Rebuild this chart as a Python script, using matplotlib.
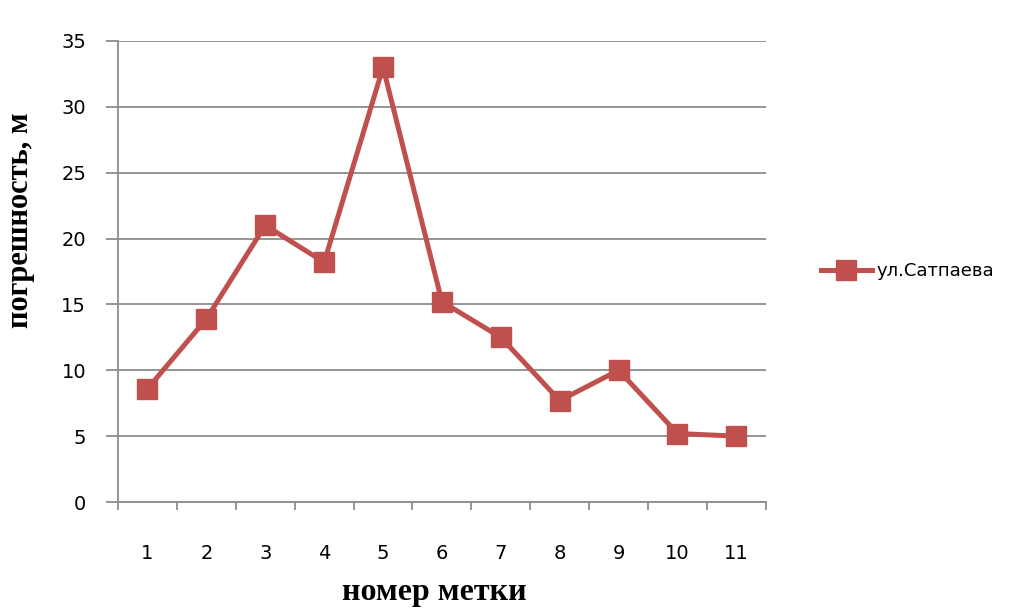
import matplotlib.pyplot as plt
import numpy as np

# Погрешность по меткам, ул. Сатпаева
labels = ['1', '2', '3', '4', '5', '6', '7', '8', '9', '10', '11']
errors = [8.6, 13.9, 21.0, 18.2, 33.0, 15.2, 12.5, 7.7, 10.0, 5.2, 5.0]
series_name = 'ул.Сатпаева'

line_color = '#c0504d'
grid_color = '#8c8c8c'

fig = plt.figure(figsize=(10.09, 6.10), dpi=100)
ax = fig.add_axes([0.117, 0.177, 0.642, 0.756])

x = np.arange(len(labels))
ax.plot(x, errors, color=line_color, lw=3.6, marker='s', ms=15,
        mec=line_color, mfc=line_color, label=series_name)

ax.set_xlim(-0.5, len(labels) - 0.5)
ax.set_ylim(0, 35)
ax.set_yticks(np.arange(0, 36, 5))
ax.yaxis.grid(True, color=grid_color, lw=1.3)
ax.set_axisbelow(True)

# подписи по центру категорий, засечки между ними
ax.set_xticks(x)
ax.set_xticklabels(labels)
ax.set_xticks(np.arange(-0.5, len(labels)), minor=True)
ax.tick_params(axis='x', which='major', length=0, pad=30, labelsize=14)
ax.tick_params(axis='x', which='minor', length=6, width=1.3, color=grid_color,
               direction='out')
ax.tick_params(axis='y', length=9, width=1.3, color=grid_color, pad=14,
               labelsize=14)

for side in ['top', 'right']:
    ax.spines[side].set_visible(False)
for side in ['left', 'bottom']:
    ax.spines[side].set_color(grid_color)
    ax.spines[side].set_linewidth(1.3)

ax.set_xlabel('номер метки', family='Liberation Serif', fontweight='bold',
              fontsize=23)
ax.set_ylabel('погрешность, м', family='Liberation Serif', fontweight='bold',
              fontsize=22)
ax.xaxis.set_label_coords(0.488, -0.165)
ax.yaxis.set_label_coords(-0.128, 0.612)

ax.legend(loc='center left', bbox_to_anchor=(1.06, 0.5), frameon=False,
          fontsize=13, handlelength=2.8, handletextpad=0.3)

plt.savefig('out.png', dpi=100)
plt.close()
